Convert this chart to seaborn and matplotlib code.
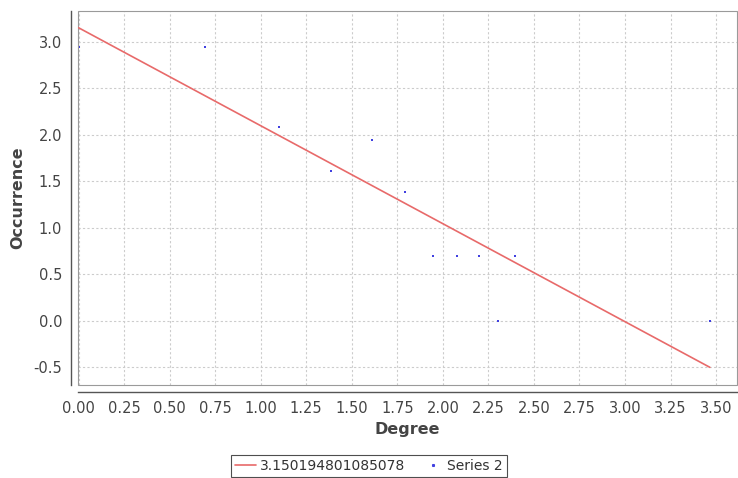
import numpy as np
import pandas as pd
import matplotlib
matplotlib.use('Agg')
import matplotlib.pyplot as plt
import seaborn as sns
from matplotlib.patches import Rectangle
from matplotlib.lines import Line2D

# log(degree) vs log(occurrence)
degree = [0.000, 0.693, 1.099, 1.386, 1.609, 1.792, 1.946, 2.079, 2.197, 2.303, 2.398, 3.466]
occurrence = [2.944, 2.944, 2.079, 1.609, 1.946, 1.386, 0.693, 0.693, 0.693, 0.000, 0.693, 0.000]

# fitted line
fit_x = [0.0, 3.466]
fit_y = [3.150194801085078, -0.5]
fit_label = '3.150194801085078'

x_ticks = [0.0, 0.25, 0.5, 0.75, 1.0, 1.25, 1.5, 1.75, 2.0, 2.25, 2.5, 2.75, 3.0, 3.25, 3.5]
y_ticks = [-0.5, 0.0, 0.5, 1.0, 1.5, 2.0, 2.5, 3.0]

sns.set_style('white')
plt.rcParams['font.family'] = ['DejaVu Sans']

fig = plt.figure(figsize=(7.38, 4.78), dpi=100)
ax = fig.add_axes([78 / 738, 1 - 385 / 478, 659 / 738, 374 / 478])

pts = pd.DataFrame({'Degree': degree, 'Occurrence': occurrence})
fit = pd.DataFrame({'x': fit_x, 'y': fit_y})

sns.lineplot(data=fit, x='x', y='y', ax=ax, color='#e86a6a', linewidth=1.2)
sns.scatterplot(data=pts, x='Degree', y='Occurrence', ax=ax, color='#4040e0',
                s=3, marker='s', linewidth=0)

ax.set_xlim(-0.003, 3.615)
ax.set_ylim(-0.69, 3.33)
ax.set_xticks(x_ticks)
ax.set_yticks(y_ticks)
ax.set_xticklabels(['%.2f' % v for v in x_ticks])
ax.set_yticklabels(['%.1f' % v for v in y_ticks])

ax.grid(True, color='#cccccc', linestyle=(0, (2, 2)), linewidth=0.8)
ax.set_axisbelow(True)

# plot outline
ax.add_patch(Rectangle((0, 0), 1, 1, transform=ax.transAxes, fill=False,
                       edgecolor='#9a9a9a', linewidth=0.8, clip_on=False))

for s in ['top', 'right']:
    ax.spines[s].set_visible(False)
for s in ['left', 'bottom']:
    ax.spines[s].set_position(('outward', 5))
    ax.spines[s].set_color('#555555')
    ax.spines[s].set_linewidth(1.0)

ax.tick_params(axis='both', direction='out', length=3, width=0.8, color='#777777',
               labelcolor='#444444', labelsize=10.5)

ax.set_xlabel('Degree', fontsize=11.5, fontweight='bold', color='#444444', labelpad=4)
ax.set_ylabel('Occurrence', fontsize=11.5, fontweight='bold', color='#444444', labelpad=6)

handles = [Line2D([], [], color='#e86a6a', linewidth=1.2),
           Line2D([], [], color='#4040e0', marker='s', markersize=1.2, linestyle='none')]
leg = fig.legend(handles, [fit_label, 'Series 2'], loc='center', bbox_to_anchor=(0.5, 1 - 466 / 478),
                 ncol=2, frameon=True, fancybox=False, fontsize=10, handlelength=1.5,
                 handletextpad=0.3, columnspacing=1.2, borderpad=0.3)
leg.get_frame().set_edgecolor('#222222')
leg.get_frame().set_linewidth(0.8)
for t in leg.get_texts():
    t.set_color('#333333')

fig.savefig('out.png', dpi=100)
